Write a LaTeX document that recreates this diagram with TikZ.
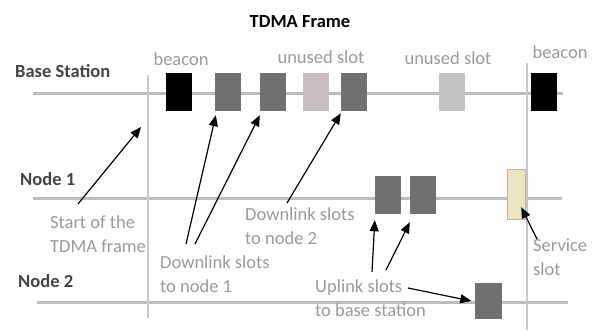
\documentclass[tikz,border=0pt]{standalone}
\usepackage{fontspec}
\setmainfont{Carlito}
\usetikzlibrary{arrows.meta,positioning}
\definecolor{timeline}{HTML}{BDBDBD}
\definecolor{frameline}{HTML}{C8C8C8}
\definecolor{slotdark}{HTML}{707070}
\definecolor{slotfree}{HTML}{C6BEC1}
\definecolor{slotfreeB}{HTML}{C4C2C2}
\definecolor{slotserv}{HTML}{E8E5C0}
\definecolor{labeltext}{HTML}{9A9A9A}
\definecolor{rowtext}{HTML}{444444}

\begin{document}
\begin{tikzpicture}[x=1pt,y=-1pt,>=Latex,font=\fontsize{18.5}{24}\selectfont,
 slot/.style={minimum width=26pt,minimum height=38pt,inner sep=0pt},
 tl/.style={timeline,line width=3pt},
 vl/.style={frameline,line width=1.2pt},
 note/.style={text=labeltext,anchor=north west,align=left,inner sep=0pt},
 toplbl/.style={text=labeltext,anchor=base,inner sep=0pt},
 row/.style={text=rowtext,font=\fontsize{18.5}{24}\selectfont\bfseries,anchor=base west,inner sep=0pt},
 arr/.style={-{Triangle[length=11pt,width=9pt]},line width=1.2pt}]
\useasboundingbox (0,0) rectangle (596,332);
% title and rows
\node[font=\fontsize{18.5}{24}\selectfont\bfseries,anchor=base,inner sep=0pt] (title) at (300,27) {TDMA Frame};
\node[row] (bs) at (15,77) {Base Station};
\node[row] (n1) at (20,185) {Node 1};
\node[row] (n2) at (18,287) {Node 2};
% time lines and frame borders
\draw[tl] (33,93) -- (563,93);
\draw[tl] (33,198) -- (562,198);
\draw[tl] (37,302) -- (568,302);
\draw[vl] (148,75) -- (148,318);
\draw[vl] (527,63) -- (527,330);
% base station slots
\node[slot,fill=black] (bc1) at (179,92) {};
\node[slot,fill=slotdark] (dl1a) at (228,92) {};
\node[slot,fill=slotdark] (dl1b) at (273,92) {};
\node[slot,fill=slotfree] (free1) at (316,92) {};
\node[slot,fill=slotdark] (dl2) at (354,92) {};
\node[slot,fill=slotfreeB] (free2) at (452,92) {};
\node[slot,fill=black] (bc2) at (544,92) {};
% node slots
\node[slot,fill=slotdark] (up1a) at (388,195) {};
\node[slot,fill=slotdark] (up1b) at (423,195) {};
\node[slot,fill=slotserv,draw=slotserv!80!black,thin,minimum width=18pt,minimum height=50pt] (serv) at (516,194) {};
\node[slot,fill=slotdark,minimum width=27pt,minimum height=36pt] (up2) at (488,301) {};
% labels
\node[toplbl] (lbc1) at (181,65) {beacon};
\node[toplbl] (lfree1) at (321,63) {unused slot};
\node[toplbl] (lfree2) at (448,64) {unused slot};
\node[toplbl] (lbc2) at (560,58) {beacon};
\node[note] (startnote) at (50,215) {Start of the\\TDMA frame};
\node[note] (dlnoteA) at (160,255) {Downlink slots\\to node 1};
\node[note] (dlnoteB) at (245,207) {Downlink slots\\to node 2};
\node[note] (upnote) at (315,279) {Uplink slots\\to base station};
\node[note] (servnote) at (533,239) {Service\\slot};
\coordinate (framestart) at (141,127);
% arrows
\draw[arr] ([xshift=28pt,yshift=11pt]startnote.north west) -- (framestart);
\draw[arr] ([xshift=26pt,yshift=11pt]dlnoteA.north west) -- ([shift={(1pt,-4pt)}]dl1a.south west);
\draw[arr] ([xshift=35pt,yshift=11pt]dlnoteA.north west) -- ([yshift=-4pt]dl1b.south west);
\draw[arr] ([xshift=42pt,yshift=4pt]dlnoteB.north west) -- ([yshift=-2pt]dl2.south west);
\draw[arr] ([xshift=57pt,yshift=7pt]upnote.north west) -- ([yshift=-6pt]up1a.south west);
\draw[arr] ([xshift=71pt,yshift=9pt]upnote.north west) -- ([yshift=-8pt]up1b.south west);
\draw[arr] ([xshift=93pt,yshift=-9pt]upnote.north west) -- ([xshift=-3pt]up2.west);
\draw[arr] ([xshift=4pt]servnote.north west) -- ([shift={(-4pt,12pt)}]serv.south east);
\end{tikzpicture}
\end{document}
